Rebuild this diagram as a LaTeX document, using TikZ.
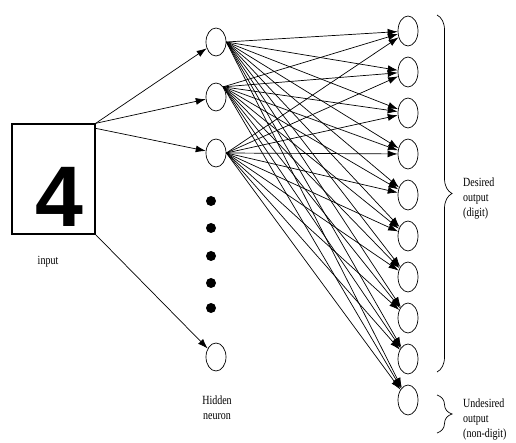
\documentclass[tikz,border=0pt]{standalone}
\usepackage{fontspec}
\setmainfont{Liberation Serif}
\newfontfamily\narrowserif[FakeStretch=0.8]{Liberation Serif}
\newfontfamily\digitfont{Liberation Sans}
\usetikzlibrary{shapes.geometric,arrows.meta,decorations.pathreplacing}

\begin{document}
\begin{tikzpicture}
    [
    x=1pt,y=-1pt,
    neuron/.style={ellipse,draw,line width=0.7pt,inner sep=0pt,minimum width=20pt,minimum height=28pt},
    outneuron/.style={neuron,minimum height=30pt},
    dot/.style={circle,fill,inner sep=0pt,minimum size=10pt},
    conn/.style={line width=0.7pt,-{Latex[length=10pt,width=7pt]}},
    caption/.style={font=\narrowserif\fontsize{12.5}{15}\selectfont,align=left,inner sep=0pt},
    brace/.style={decorate,decoration={brace,amplitude=15pt},line width=0.7pt},
    ]
    \useasboundingbox (0,0) rectangle (516,443);
    % input image
    \node (inp) at (53.5,179) [rectangle,draw,line width=1.3pt,minimum width=83pt,minimum height=110pt] {};
    \node (four) at (59,197) {\digitfont\bfseries\fontsize{86}{86}\selectfont 4};
    \node (inplabel) at (48,262) [caption] {input};
    % hidden layer
    \node (h1) at (216,42) [neuron] {};
    \node (h2) at (216,97) [neuron] {};
    \node (h3) at (216,153) [neuron] {};
    \node (d1) at (211,201) [dot] {};
    \node (d2) at (211,228) [dot] {};
    \node (d3) at (211,256) [dot] {};
    \node (d4) at (211,283) [dot] {};
    \node (d5) at (211,308) [dot] {};
    \node (h4) at (216,357) [neuron] {};
    \node (hlabel) at (217,408) [caption,align=center] {Hidden\\neuron};
    % output layer
    \node (o1) at (408,31) [outneuron] {};
    \node (o2) at (408,72) [outneuron] {};
    \node (o3) at (408,113) [outneuron] {};
    \node (o4) at (408,154) [outneuron] {};
    \node (o5) at (408,195) [outneuron] {};
    \node (o6) at (408,236) [outneuron] {};
    \node (o7) at (408,277) [outneuron] {};
    \node (o8) at (408,318) [outneuron] {};
    \node (o9) at (408,359) [outneuron] {};
    \node (o10) at (408,400) [outneuron] {};
    % input to hidden
    \draw [conn] (inp.north east) to (h1);
    \draw [conn] (inp.north east) to (h2);
    \draw [conn] ([yshift=-5pt]inp.north east) to (h3);
    \draw [conn] (inp.south east) to (h4);
    % hidden to output
    \foreach \h/\a in {h1/east,h2/north east,h3/east}
      \foreach \o in {1,...,10}
        \draw [conn] (\h.\a) to (o\o);
    % output groups
    \draw [brace] (437,15) -- (437,372);
    \draw [brace] (437,395) -- (437,433);
    \node (desired) at (463,199) [caption,anchor=west] {Desired\\output\\(digit)};
    \node (undesired) at (463,420) [caption,anchor=west] {Undesired\\output\\(non-digit)};
  \end{tikzpicture}
\end{document}
